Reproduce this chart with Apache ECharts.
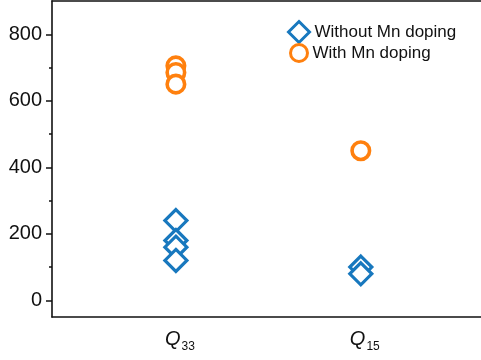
<!DOCTYPE html>
<html>
<head>
<meta charset="utf-8">
<script src="https://cdn.jsdelivr.net/npm/echarts@6/dist/echarts.min.js"></script>
<style>
  html, body { margin: 0; padding: 0; background: #fff; }
  #chart { width: 481px; height: 360px; }
</style>
</head>
<body>
<div id="chart"></div>
<script>
// Piezoelectric coefficients per category, with and without Mn doping
const categories = ['33', '15'];          // subscripts of Q
const categoryPos = [1, 2];
const withoutMn = [
  [240, 180, 160, 120],   // Q33
  [100, 80]               // Q15
];
const withMn = [
  [705, 685, 650],        // Q33
  [450]                   // Q15
];
const yMajorTicks = [0, 200, 400, 600, 800];
const yMinorTicks = [100, 300, 500, 700];

const BLUE = '#1878be';
const ORANGE = '#ff800e';
const FONT = 'Liberation Sans, Arial, sans-serif';

function toPoints(groups) {
  const pts = [];
  groups.forEach((vals, i) => vals.forEach(v => pts.push([categoryPos[i], v])));
  return pts;
}

const chart = echarts.init(document.getElementById('chart'), null, { renderer: 'canvas' });

const axisLineStyle = { color: '#111', width: 1.6 };

chart.setOption({
  animation: false,
  grid: { left: 52, top: 1, right: 0, bottom: 43 },
  legend: [
    {
      data: ['Without Mn doping'],
      left: 282, top: 15, itemWidth: 21, itemHeight: 21, itemGap: 6,
      itemStyle: { borderWidth: 3 },
      textStyle: { fontFamily: FONT, fontSize: 17, color: '#111' }
    },
    {
      data: ['With Mn doping'],
      left: 284, top: 38, itemWidth: 17, itemHeight: 17, itemGap: 8,
      itemStyle: { borderWidth: 3 },
      textStyle: { fontFamily: FONT, fontSize: 17, color: '#111' }
    }
  ],
  xAxis: [
    {
      type: 'value', min: 0.33, max: 2.65, position: 'bottom',
      splitLine: { show: false },
      axisLine: { show: true, onZero: false, lineStyle: axisLineStyle },
      axisTick: { show: false },
      axisLabel: {
        customValues: categoryPos,
        margin: 9,
        formatter: v => '{q|Q}{s|' + categories[categoryPos.indexOf(v)] + '}',
        rich: {
          q: { fontFamily: FONT, fontSize: 20, fontStyle: 'italic', color: '#111', padding: [0, 0, 0, 8] },
          s: { fontFamily: FONT, fontSize: 12, color: '#111', padding: [15, 0, 0, 1] }
        }
      }
    },
    {
      type: 'value', min: 0.33, max: 2.65, position: 'top',
      splitLine: { show: false },
      axisLine: { show: true, onZero: false, lineStyle: axisLineStyle },
      axisTick: { show: false },
      axisLabel: { show: false }
    }
  ],
  yAxis: [
    {
      type: 'value', min: -50, max: 900,
      splitLine: { show: false },
      axisLine: { show: true, onZero: false, lineStyle: axisLineStyle },
      axisTick: { show: true, customValues: yMajorTicks, length: 6, lineStyle: { color: '#111', width: 1.5 } },
      axisLabel: {
        customValues: yMajorTicks, margin: 10,
        fontFamily: FONT, fontSize: 20, color: '#111'
      }
    },
    {
      type: 'value', min: -50, max: 900, position: 'left',
      splitLine: { show: false },
      axisLine: { show: false },
      axisTick: { show: true, customValues: yMinorTicks, length: 3, lineStyle: { color: '#111', width: 1.5 } },
      axisLabel: { show: false }
    }
  ],
  series: [
    {
      name: 'Without Mn doping', type: 'scatter',
      symbol: 'diamond', symbolSize: 22,
      itemStyle: { color: '#fff', opacity: 1, borderColor: BLUE, borderWidth: 3.2 },
      data: toPoints(withoutMn), z: 3
    },
    {
      name: 'With Mn doping', type: 'scatter',
      symbol: 'circle', symbolSize: 17.5,
      itemStyle: { color: '#fff', opacity: 1, borderColor: ORANGE, borderWidth: 3.6 },
      data: toPoints(withMn), z: 3
    }
  ]
});
</script>
</body>
</html>
